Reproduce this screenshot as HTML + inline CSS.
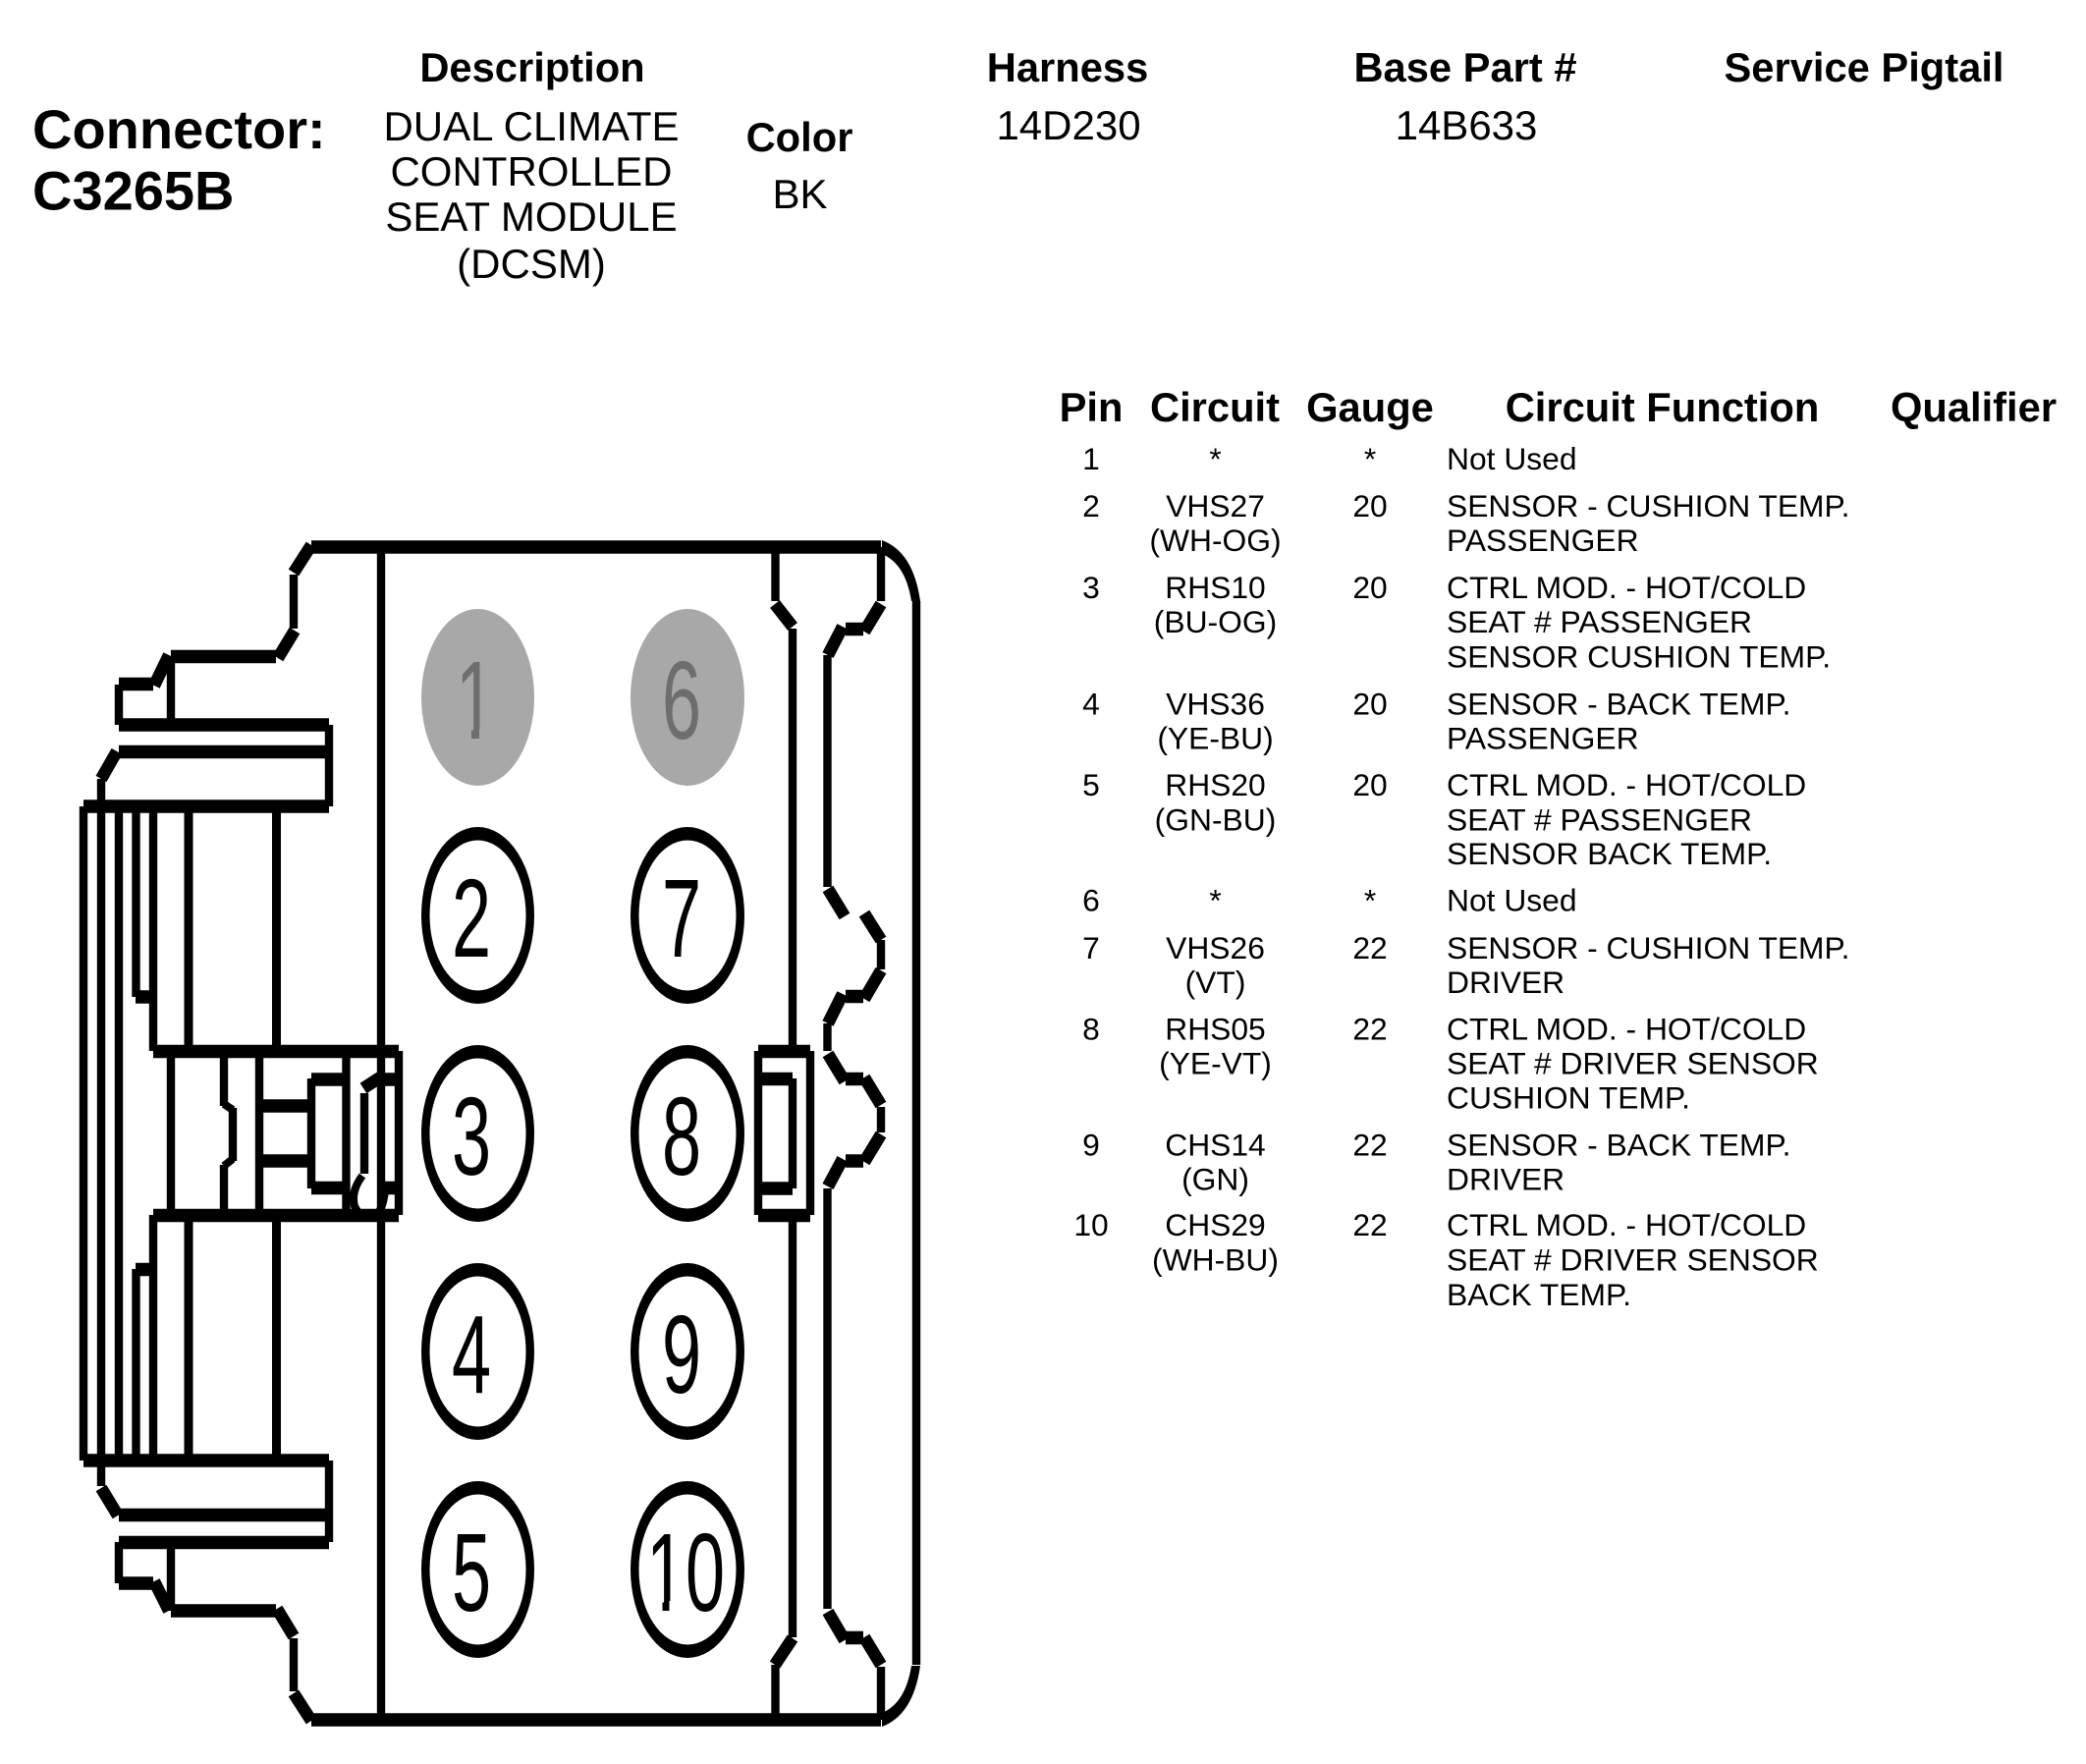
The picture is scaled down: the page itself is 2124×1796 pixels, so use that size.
<!DOCTYPE html>
<html lang="en">
<head>
<meta charset="utf-8">
<title>Connector C3265B</title>
<style>
html,body{margin:0;padding:0;background:#fff;width:2124px;height:1796px;overflow:hidden}
svg{display:block}
text{font-family:"Liberation Sans",Arial,sans-serif;fill:#000}
.b{font-weight:bold;font-size:41.7px;text-anchor:middle}
.t{font-size:42px;text-anchor:middle}
.c{font-size:31.8px;text-anchor:middle}
.l{font-size:31.8px;text-anchor:start}
.n{font-size:72px;text-anchor:middle}
.g{fill:#6e6e6e}
</style>
</head>
<body>
<svg xmlns="http://www.w3.org/2000/svg" width="2124" height="1796" viewBox="0 0 2124 1796">
<rect width="2124" height="1796" fill="#fff"/>

<!-- horizontals -->
<path fill="none" stroke="#000" stroke-width="13.5" d="
M317 557H897 M317 1751H897
M174 668.5H281 M121 696.5H156 M121 738H335 M121 765.5H335 M85 821H335
M156 1070.5H406 M156 1237.5H406
M317 1099H355 M388 1099H402 M317 1209.5H355 M388 1209.5H406
M264 1126H317 M264 1182H317
M138 1015H156 M138 1292.5H156
M85 1487H335 M121 1542.5H335 M121 1570.5H335 M121 1612H156 M174 1640H281
M772 1070.5H825 M772 1237.5H825 M772 1098.5H807 M772 1210H807
M861 640.5H879 M861 1014.5H879 M861 1098.5H879 M861 1182H879 M861 1667.5H879"/>

<!-- verticals -->
<path fill="none" stroke="#000" stroke-width="8.4" d="
M299 585V640 M299 1668V1722
M121 697V738 M121 1570V1612
M174 668V732 M174 1570V1640
M335 738V821 M335 1487V1570
M103 793V1513 M85 821V1487 M121 821V1487
M138.5 821V1015 M138.5 1292V1487
M156 821V1070 M156 1237V1487
M388 557V1751
M174 1070V1237
M228 1070V1126 M228 1186V1237 M237 1128V1182
M264 1070V1237 M317 1098V1210 M352.5 1070V1237 M371 1113V1195 M406 1070V1237
M933 612V1695 M789.5 557V612 M789.5 1695V1751
M807 640V1070 M807 1098V1210 M807 1237V1667
M772 1070V1237 M825 1070V1237
M842.5 667V903 M842.5 1042V1070 M842.5 1210V1638
M897 557V612 M897 957V987 M897 1127V1153 M897 1697V1751"/>
<path fill="none" stroke="#000" stroke-width="9" d="M192 821V1070 M192 1237V1487 M281.5 821V1070 M281.5 1237V1487"/>

<!-- diagonals -->
<path fill="none" stroke="#000" stroke-width="12.5" d="
M317 555L299 583 M300 642L283 670 M172 667L157 698
M119 765L103 793 M103 1515L120 1543 M157 1610L172 1640 M282 1638L299 1666 M299 1724L317 1752
M370 1108L387 1097
M789 615L807 638 M807 1668L789 1695
M897 615L880 643 M858 638L843 667 M843 905L860 933 M880 930L897 957
M897 988L880 1017 M858 1012L843 1042 M843 1073L860 1101 M880 1097L897 1125
M897 1155L880 1183 M858 1180L843 1208 M843 1641L860 1670 M880 1667L897 1695"/>
<path fill="none" stroke="#000" stroke-width="8" d="M228 1124L237 1130 M237 1180L228 1187"/>

<!-- hook -->
<path fill="none" stroke="#000" stroke-width="8" d="M369 1197Q357 1213 361 1228Q367 1240 376 1240Q390 1238 392 1211"/>

<!-- corners -->
<path fill="#000" d="M898 550Q930 562 937 612L928 612Q922 574 898 564Z"/>
<path fill="#000" d="M898 1758Q930 1746 937 1696L928 1696Q922 1734 898 1744Z"/>

<!-- pins -->
<ellipse cx="486.5" cy="710" rx="57.5" ry="90" fill="#a8a8a8"/>
<ellipse cx="700" cy="710" rx="58" ry="90" fill="#a8a8a8"/>
<g fill="#000">
<ellipse cx="486.5" cy="932" rx="57.5" ry="90"/><ellipse cx="700" cy="932" rx="58" ry="90"/>
<ellipse cx="486.5" cy="1154" rx="57.5" ry="90"/><ellipse cx="700" cy="1154" rx="58" ry="90"/>
<ellipse cx="486.5" cy="1376" rx="57.5" ry="90"/><ellipse cx="700" cy="1376" rx="58" ry="90"/>
<ellipse cx="486.5" cy="1598" rx="57.5" ry="90"/><ellipse cx="700" cy="1598" rx="58" ry="90"/>
</g>
<g fill="#fff">
<ellipse cx="486.5" cy="932" rx="49" ry="76.5"/><ellipse cx="700" cy="932" rx="49.5" ry="76.5"/>
<ellipse cx="486.5" cy="1154" rx="49" ry="76.5"/><ellipse cx="700" cy="1154" rx="49.5" ry="76.5"/>
<ellipse cx="486.5" cy="1376" rx="49" ry="76.5"/><ellipse cx="700" cy="1376" rx="49.5" ry="76.5"/>
<ellipse cx="486.5" cy="1598" rx="49" ry="76.5"/><ellipse cx="700" cy="1598" rx="49.5" ry="76.5"/>
</g>
<text class="n g" transform="translate(484,752) scale(1,1.57)">1</text>
<rect x="463" y="742" width="17" height="12" fill="#a8a8a8"/><rect x="488" y="742" width="16" height="12" fill="#a8a8a8"/>
<text class="n g" transform="translate(694,752) scale(1,1.57)">6</text>
<text class="n" transform="translate(480,974) scale(1,1.57)">2</text>
<text class="n" transform="translate(694,974) scale(1,1.57)">7</text>
<text class="n" transform="translate(480,1196) scale(1,1.57)">3</text>
<text class="n" transform="translate(694,1196) scale(1,1.57)">8</text>
<text class="n" transform="translate(480,1418) scale(1,1.57)">4</text>
<text class="n" transform="translate(694,1418) scale(1,1.57)">9</text>
<text class="n" transform="translate(480,1640) scale(1,1.57)">5</text>
<text class="n" transform="translate(698,1640) scale(1,1.57)">10</text>
<rect x="660" y="1630" width="14.5" height="12" fill="#fff"/><rect x="681.5" y="1630" width="15" height="12" fill="#fff"/>

<!-- top header -->
<text x="33" y="151" font-weight="bold" font-size="56">Connector:</text>
<text x="33" y="213.5" font-weight="bold" font-size="56">C3265B</text>
<text class="b" x="542" y="83">Description</text>
<text class="t" x="541" y="143">DUAL CLIMATE</text>
<text class="t" x="541" y="189">CONTROLLED</text>
<text class="t" x="541" y="235">SEAT MODULE</text>
<text class="t" x="541" y="283">(DCSM)</text>
<text class="b" x="814" y="154">Color</text>
<text class="t" x="814.5" y="212">BK</text>
<text class="b" x="1087" y="83">Harness</text>
<text class="t" x="1088" y="142">14D230</text>
<text class="b" x="1492" y="83">Base Part #</text>
<text class="t" x="1493" y="142">14B633</text>
<text class="b" x="1898" y="83">Service Pigtail</text>

<!-- table header -->
<text class="b" x="1111" y="429">Pin</text>
<text class="b" x="1237" y="429">Circuit</text>
<text class="b" x="1395" y="429">Gauge</text>
<text class="b" x="1692.5" y="429">Circuit Function</text>
<text class="b" x="2009.5" y="429">Qualifier</text>

<!-- rows -->
<g transform="translate(0,1)">
<text class="c" x="1111" y="477">1</text><text class="c" x="1237.5" y="477">*</text><text class="c" x="1395" y="477">*</text><text class="l" x="1473" y="477">Not Used</text>

<text class="c" x="1111" y="525">2</text><text class="c" x="1237.5" y="525">VHS27</text><text class="c" x="1237.5" y="560">(WH-OG)</text><text class="c" x="1395" y="525">20</text>
<text class="l" x="1473" y="525">SENSOR - CUSHION TEMP.</text><text class="l" x="1473" y="560">PASSENGER</text>

<text class="c" x="1111" y="608">3</text><text class="c" x="1237.5" y="608">RHS10</text><text class="c" x="1237.5" y="643">(BU-OG)</text><text class="c" x="1395" y="608">20</text>
<text class="l" x="1473" y="608">CTRL MOD. - HOT/COLD</text><text class="l" x="1473" y="643">SEAT # PASSENGER</text><text class="l" x="1473" y="678.5">SENSOR CUSHION TEMP.</text>

<text class="c" x="1111" y="726.5">4</text><text class="c" x="1237.5" y="726.5">VHS36</text><text class="c" x="1237.5" y="761.5">(YE-BU)</text><text class="c" x="1395" y="726.5">20</text>
<text class="l" x="1473" y="726.5">SENSOR - BACK TEMP.</text><text class="l" x="1473" y="761.5">PASSENGER</text>

<text class="c" x="1111" y="809">5</text><text class="c" x="1237.5" y="809">RHS20</text><text class="c" x="1237.5" y="844.5">(GN-BU)</text><text class="c" x="1395" y="809">20</text>
<text class="l" x="1473" y="809">CTRL MOD. - HOT/COLD</text><text class="l" x="1473" y="844.5">SEAT # PASSENGER</text><text class="l" x="1473" y="879">SENSOR BACK TEMP.</text>

<text class="c" x="1111" y="926.5">6</text><text class="c" x="1237.5" y="926.5">*</text><text class="c" x="1395" y="926.5">*</text><text class="l" x="1473" y="926.5">Not Used</text>

<text class="c" x="1111" y="975">7</text><text class="c" x="1237.5" y="975">VHS26</text><text class="c" x="1237.5" y="1010">(VT)</text><text class="c" x="1395" y="975">22</text>
<text class="l" x="1473" y="975">SENSOR - CUSHION TEMP.</text><text class="l" x="1473" y="1010">DRIVER</text>

<text class="c" x="1111" y="1057.5">8</text><text class="c" x="1237.5" y="1057.5">RHS05</text><text class="c" x="1237.5" y="1092.5">(YE-VT)</text><text class="c" x="1395" y="1057.5">22</text>
<text class="l" x="1473" y="1057.5">CTRL MOD. - HOT/COLD</text><text class="l" x="1473" y="1092.5">SEAT # DRIVER SENSOR</text><text class="l" x="1473" y="1127.5">CUSHION TEMP.</text>

<text class="c" x="1111" y="1175.5">9</text><text class="c" x="1237.5" y="1175.5">CHS14</text><text class="c" x="1237.5" y="1210.5">(GN)</text><text class="c" x="1395" y="1175.5">22</text>
<text class="l" x="1473" y="1175.5">SENSOR - BACK TEMP.</text><text class="l" x="1473" y="1210.5">DRIVER</text>

<text class="c" x="1111" y="1257">10</text><text class="c" x="1237.5" y="1257">CHS29</text><text class="c" x="1237.5" y="1292.5">(WH-BU)</text><text class="c" x="1395" y="1257">22</text>
<text class="l" x="1473" y="1257">CTRL MOD. - HOT/COLD</text><text class="l" x="1473" y="1292.5">SEAT # DRIVER SENSOR</text><text class="l" x="1473" y="1328">BACK TEMP.</text>
</g>
</svg>
</body>
</html>
